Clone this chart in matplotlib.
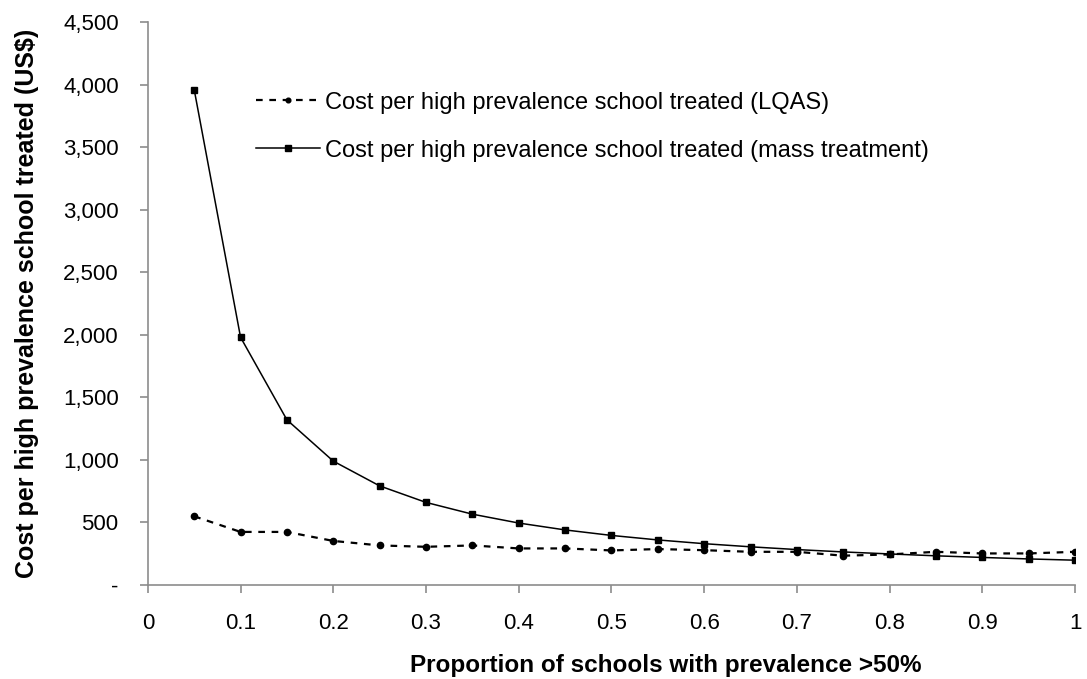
import matplotlib.pyplot as plt
from matplotlib.ticker import FuncFormatter

plt.rcParams['font.family'] = ['Liberation Sans', 'DejaVu Sans']

# Proportion of schools with prevalence >50%
proportion = [0.05, 0.10, 0.15, 0.20, 0.25, 0.30, 0.35, 0.40, 0.45, 0.50,
              0.55, 0.60, 0.65, 0.70, 0.75, 0.80, 0.85, 0.90, 0.95, 1.00]

# Cost per high prevalence school treated (US$)
cost_lqas = [549, 424, 424, 352, 316, 305, 316, 292, 292, 276,
             287, 278, 265, 265, 234, 244, 265, 252, 252, 265]
cost_mass = [3960, 1980, 1320, 990, 792, 660, 566, 495, 440, 396,
             360, 330, 305, 283, 264, 248, 233, 220, 208, 198]

legend_labels = ["Cost per high prevalence school treated (LQAS)",
                 "Cost per high prevalence school treated (mass treatment)"]


def y_fmt(v, pos):
    if v == 0:
        return "-"
    return f"{int(v):,}"


fig = plt.figure(figsize=(10.87, 6.79), dpi=100)
ax = fig.add_axes([0.136, 0.1385, 0.853, 0.829])

ax.plot(proportion, cost_lqas, color="black", linewidth=1.6, dashes=(3, 3),
        marker="o", markersize=4.5, label=legend_labels[0])
ax.plot(proportion, cost_mass, color="black", linewidth=1.1,
        marker="s", markersize=5, label=legend_labels[1])

ax.set_xlim(0, 1)
ax.set_ylim(0, 4500)
ax.set_xticks([i / 10 for i in range(11)])
ax.set_xticklabels(["0", "0.1", "0.2", "0.3", "0.4", "0.5", "0.6", "0.7", "0.8", "0.9", "1"])
ax.set_yticks(range(0, 4501, 500))
ax.yaxis.set_major_formatter(FuncFormatter(y_fmt))

for side in ["top", "right"]:
    ax.spines[side].set_visible(False)
for side in ["left", "bottom"]:
    ax.spines[side].set_color("#8c8c8c")
    ax.spines[side].set_linewidth(1.2)
ax.tick_params(axis="both", colors="#8c8c8c", labelcolor="black", labelsize=16,
               length=6, width=1.2, direction="out")
ax.tick_params(axis="x", pad=14.5)
ax.tick_params(axis="y", pad=15)

ax.set_xlabel("Proportion of schools with prevalence >50%", fontsize=17.5,
              fontweight="bold", labelpad=14)
ax.xaxis.label.set_x(0.559)
ax.set_ylabel("Cost per high prevalence school treated (US\\$)", fontsize=18,
              fontweight="bold", labelpad=17)

leg = ax.legend(loc="upper left", bbox_to_anchor=(0.107, 0.893), borderaxespad=0,
                frameon=False, fontsize=17, handlelength=2.7, markerscale=0.75,
                labelspacing=1.1, handletextpad=0.2)

fig.savefig("out.png", dpi=100)
